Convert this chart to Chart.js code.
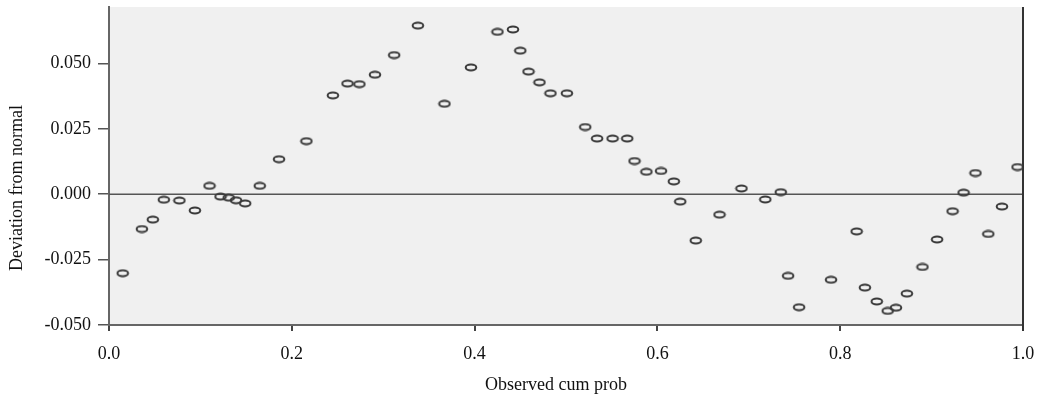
<!DOCTYPE html>
<html>
<head>
<meta charset="utf-8">
<script src="https://cdn.jsdelivr.net/npm/chart.js@4"></script>
<style>
  html, body { margin: 0; padding: 0; background: #fff; }
  #wrap { width: 1037px; height: 400px; }
</style>
</head>
<body>
<div id="wrap"><canvas id="chart"></canvas></div>
<script>
// Observed cum prob (x) and deviation from normal (y)
const observed = [
    0.015, 0.036, 0.048, 0.060, 0.077, 0.094, 0.110, 0.122, 0.131, 0.139,
    0.149, 0.165, 0.186, 0.216, 0.245, 0.261, 0.274, 0.291, 0.312, 0.338,
    0.367, 0.396, 0.425, 0.442, 0.450, 0.459, 0.471, 0.483, 0.501, 0.521,
    0.534, 0.551, 0.567, 0.575, 0.588, 0.604, 0.618, 0.625, 0.642, 0.668,
    0.692, 0.718, 0.735, 0.743, 0.755, 0.790, 0.818, 0.827, 0.840, 0.852,
    0.861, 0.873, 0.890, 0.906, 0.923, 0.935, 0.948, 0.962, 0.977, 0.994
];
const deviation = [
    -0.0302, -0.0133, -0.0097, -0.0021, -0.0024, -0.0062, 0.0032, -0.0009, -0.0013, -0.0023,
    -0.0035, 0.0032, 0.0134, 0.0203, 0.0378, 0.0423, 0.0421, 0.0457, 0.0532, 0.0645,
    0.0346, 0.0485, 0.0621, 0.0630, 0.0549, 0.0469, 0.0428, 0.0386, 0.0386, 0.0257,
    0.0213, 0.0213, 0.0213, 0.0127, 0.0086, 0.0089, 0.0049, -0.0028, -0.0177, -0.0078,
    0.0022, -0.0020, 0.0008, -0.0312, -0.0432, -0.0327, -0.0142, -0.0357, -0.0410, -0.0446,
    -0.0434, -0.0380, -0.0278, -0.0173, -0.0065, 0.0006, 0.0081, -0.0152, -0.0047, 0.0104
];
const xTicks = [0.0, 0.2, 0.4, 0.6, 0.8, 1.0];
const yTicks = [-0.050, -0.025, 0.000, 0.025, 0.050];

const FONT = '"Liberation Serif", "Times New Roman", serif';

// hollow flat ellipse marker
function ellipseMarker() {
    const c = document.createElement('canvas');
    c.width = 14; c.height = 9;
    const g = c.getContext('2d');
    g.strokeStyle = '#3a3a3a';
    g.lineWidth = 2;
    g.beginPath();
    g.ellipse(7, 4.5, 5.3, 2.9, 0, 0, Math.PI * 2);
    g.stroke();
    return c;
}

// background, zero line, right border, axis titles
const decor = {
    id: 'decor',
    beforeDraw(chart) {
        const { ctx, chartArea: a } = chart;
        ctx.save();
        ctx.fillStyle = '#f0f0f0';
        ctx.fillRect(a.left, a.top, a.right - a.left, a.bottom - a.top);
        ctx.restore();
    },
    beforeDatasetsDraw(chart) {
        const { ctx, chartArea: a, scales } = chart;
        const y0 = scales.y.getPixelForValue(0);
        ctx.save();
        ctx.strokeStyle = '#555';
        ctx.lineWidth = 1.5;
        ctx.beginPath();
        ctx.moveTo(a.left, y0);
        ctx.lineTo(a.right, y0);
        ctx.stroke();
        ctx.strokeStyle = '#333';
        ctx.lineWidth = 2;
        ctx.beginPath();
        ctx.moveTo(a.right, a.top);
        ctx.lineTo(a.right, a.bottom + 6);
        ctx.stroke();
        ctx.restore();
    },
    afterDraw(chart) {
        const { ctx, chartArea: a } = chart;
        ctx.save();
        ctx.fillStyle = '#111';
        ctx.font = '18px ' + FONT;
        ctx.textAlign = 'center';
        ctx.textBaseline = 'middle';
        ctx.fillText('Observed cum prob', (a.left + a.right) / 2 - 10, 385);
        ctx.translate(17, 188);
        ctx.rotate(-Math.PI / 2);
        ctx.fillText('Deviation from normal', 0, 0);
        ctx.restore();
    }
};

new Chart(document.getElementById('chart').getContext('2d'), {
    type: 'scatter',
    data: {
        datasets: [{
            data: observed.map((x, i) => ({ x: x, y: deviation[i] })),
            pointStyle: ellipseMarker(),
            pointRadius: 6,
            pointHoverRadius: 6
        }]
    },
    options: {
        responsive: true,
        maintainAspectRatio: false,
        animation: false,
        layout: { padding: { top: 4, right: 14, left: 0, bottom: 0 } },
        plugins: { legend: { display: false }, tooltip: { enabled: false } },
        scales: {
            x: {
                type: 'linear',
                min: 0, max: 1,
                afterBuildTicks: s => { s.ticks = xTicks.map(v => ({ value: v })); },
                afterFit: s => { s.height = 75; s.paddingLeft = 0; s.paddingRight = 0; },
                grid: { drawOnChartArea: false, color: '#444', tickLength: 6, lineWidth: 2 },
                border: { color: '#666', width: 2 },
                ticks: {
                    color: '#111', padding: 12, maxRotation: 0,
                    font: { family: FONT, size: 18 },
                    callback: v => v.toFixed(1)
                }
            },
            y: {
                min: -0.05, max: 0.0716,
                afterBuildTicks: s => { s.ticks = yTicks.map(v => ({ value: v })); },
                afterFit: s => { s.width = 109; s.paddingTop = 0; s.paddingBottom = 0; },
                grid: { drawOnChartArea: false, color: '#555', tickLength: 11, lineWidth: 1.5 },
                border: { color: '#666', width: 2 },
                ticks: {
                    color: '#111', padding: 7,
                    font: { family: FONT, size: 18 },
                    callback: v => v.toFixed(3)
                }
            }
        }
    },
    plugins: [decor]
});
</script>
</body>
</html>
